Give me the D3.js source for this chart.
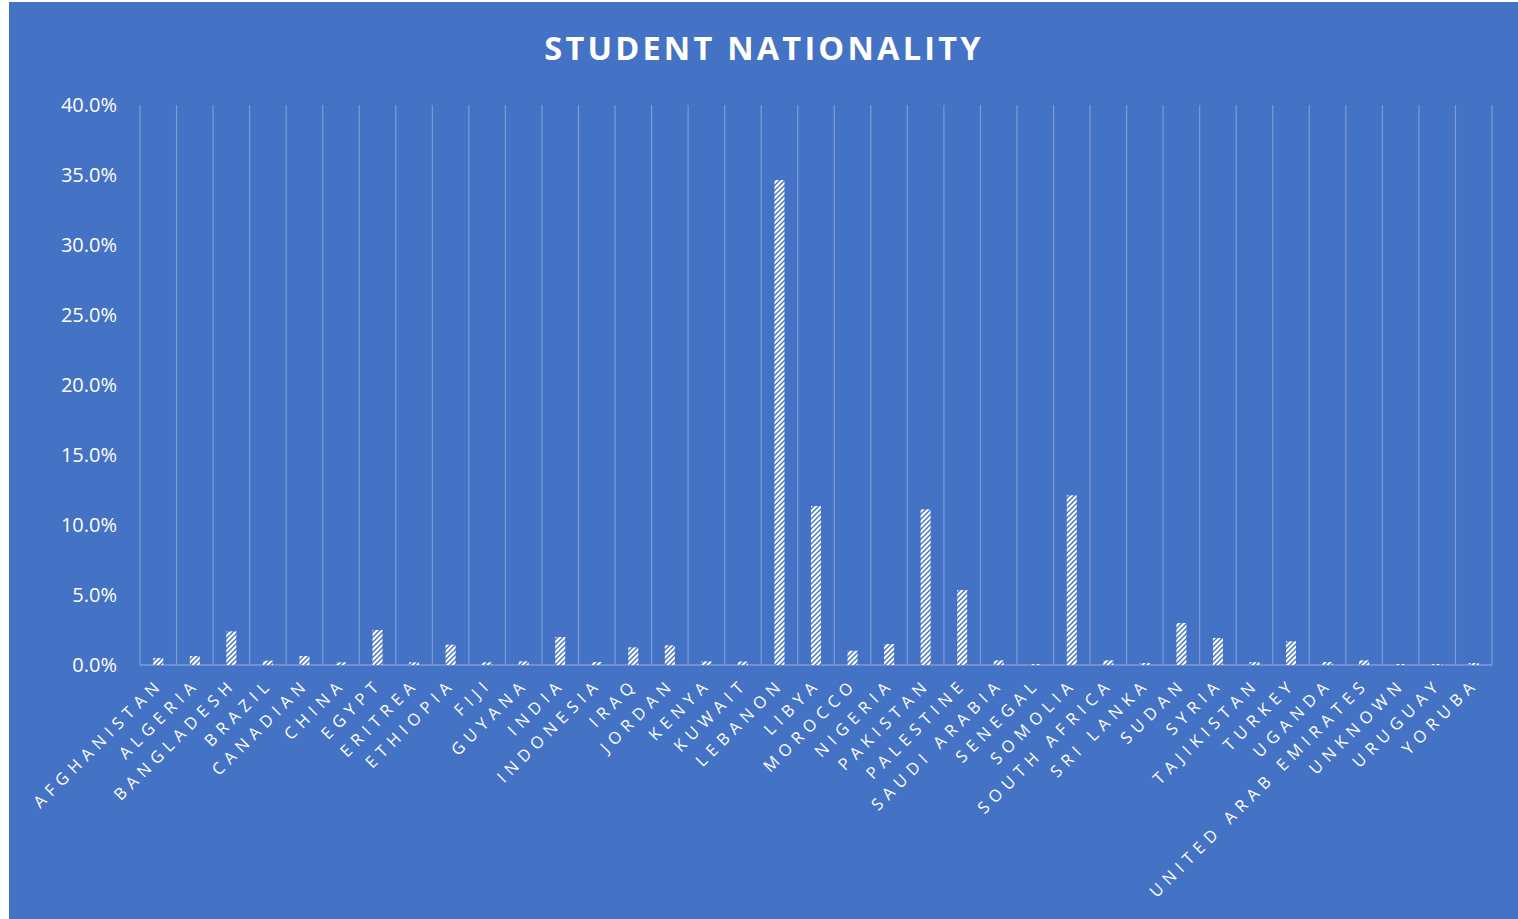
<!DOCTYPE html>
<html>
<head>
<meta charset="utf-8">
<script src="https://cdn.jsdelivr.net/npm/d3@7"></script>
<style>
    html, body { margin: 0; padding: 0; background: #ffffff; }
    svg { display: block; }
    text { font-family: "Open Sans", "Noto Sans", sans-serif; fill: #ffffff; }
</style>
</head>
<body>
<div id="chart"></div>
<script>
const width = 1518
const height = 919

const countries = [
    "AFGHANISTAN", "ALGERIA", "BANGLADESH", "BRAZIL", "CANADIAN", "CHINA", "EGYPT", "ERITREA",
    "ETHIOPIA", "FIJI", "GUYANA", "INDIA", "INDONESIA", "IRAQ", "JORDAN", "KENYA", "KUWAIT",
    "LEBANON", "LIBYA", "MOROCCO", "NIGERIA", "PAKISTAN", "PALESTINE", "SAUDI ARABIA", "SENEGAL",
    "SOMOLIA", "SOUTH AFRICA", "SRI LANKA", "SUDAN", "SYRIA", "TAJIKISTAN", "TURKEY", "UGANDA",
    "UNITED ARAB EMIRATES", "UNKNOWN", "URUGUAY", "YORUBA",
]

// share of students, in percent
const shares = [
    0.50, 0.64, 2.40, 0.31, 0.64, 0.19, 2.50, 0.19,
    1.45, 0.19, 0.26, 2.00, 0.21, 1.26, 1.40, 0.26, 0.24,
    34.64, 11.36, 1.02, 1.50, 11.12, 5.36, 0.33, 0.07,
    12.12, 0.33, 0.14, 3.00, 1.93, 0.21, 1.69, 0.21,
    0.33, 0.07, 0.07, 0.14,
]

const yTicks = [0, 5, 10, 15, 20, 25, 30, 35, 40]

const bg = "#4472c4"
const gridColor = "#7f9bd6"
const margin = { left: 140, right: 26, top: 105, bottom: 254 }

const svg = d3.select("#chart").append("svg").attr("width", width).attr("height", height)

// bar fill: white with a thin upward diagonal hatch
const pattern = svg
    .append("defs")
    .append("pattern")
    .attr("id", "hatch")
    .attr("patternUnits", "userSpaceOnUse")
    .attr("width", 5)
    .attr("height", 5)
pattern.append("rect").attr("width", 5).attr("height", 5).attr("fill", "#ffffff")
pattern
    .append("path")
    .attr("d", "M-1,1 l2,-2 M0,5 l5,-5 M4,6 l2,-2")
    .attr("stroke", bg)
    .attr("stroke-width", 1.4)

svg.append("rect").attr("x", 9).attr("y", 2).attr("width", width - 9).attr("height", height - 2).attr("fill", bg)

const x = d3
    .scaleBand()
    .domain(countries)
    .range([margin.left, width - margin.right])
    .paddingInner(0)
    .paddingOuter(0)

const y = d3
    .scaleLinear()
    .domain([0, 40])
    .range([height - margin.bottom, margin.top])

// vertical gridlines at category boundaries
const boundaries = countries.map((c) => x(c)).concat([x.range()[1]])
svg.selectAll(".vgrid")
    .data(boundaries)
    .enter()
    .append("line")
    .attr("x1", (d) => d)
    .attr("x2", (d) => d)
    .attr("y1", y(40))
    .attr("y2", y(0))
    .attr("stroke", gridColor)
    .attr("stroke-width", 1.2)

// baseline
svg.append("line")
    .attr("x1", x.range()[0])
    .attr("x2", x.range()[1])
    .attr("y1", y(0))
    .attr("y2", y(0))
    .attr("stroke", gridColor)
    .attr("stroke-width", 1.5)

// y tick labels
svg.selectAll(".ytick")
    .data(yTicks)
    .enter()
    .append("text")
    .attr("x", 117)
    .attr("y", (d) => y(d))
    .attr("dy", "0.35em")
    .attr("text-anchor", "end")
    .style("font-size", "20px")
    .text((d) => d3.format(".1f")(d) + "%")

// bars
const barWidth = 10
svg.selectAll(".bar")
    .data(countries)
    .enter()
    .append("rect")
    .attr("x", (c) => x(c) + x.bandwidth() / 2 - barWidth / 2)
    .attr("width", barWidth)
    .attr("y", (c, i) => y(shares[i]))
    .attr("height", (c, i) => y(0) - y(shares[i]))
    .attr("fill", "url(#hatch)")

// category labels, rotated
svg.selectAll(".xlabel")
    .data(countries)
    .enter()
    .append("text")
    .attr("transform", (c) => `translate(${x(c) + x.bandwidth() / 2 + 6},${y(0) + 20}) rotate(-45)`)
    .attr("text-anchor", "end")
    .style("font-size", "16.5px")
    .style("letter-spacing", "5.8px")
    .text((c) => c)

// title
svg.append("text")
    .attr("x", 764)
    .attr("y", 60)
    .attr("text-anchor", "middle")
    .style("font-size", "32.5px")
    .style("font-weight", "bold")
    .style("letter-spacing", "3.2px")
    .text("STUDENT NATIONALITY")
</script>
</body>
</html>
